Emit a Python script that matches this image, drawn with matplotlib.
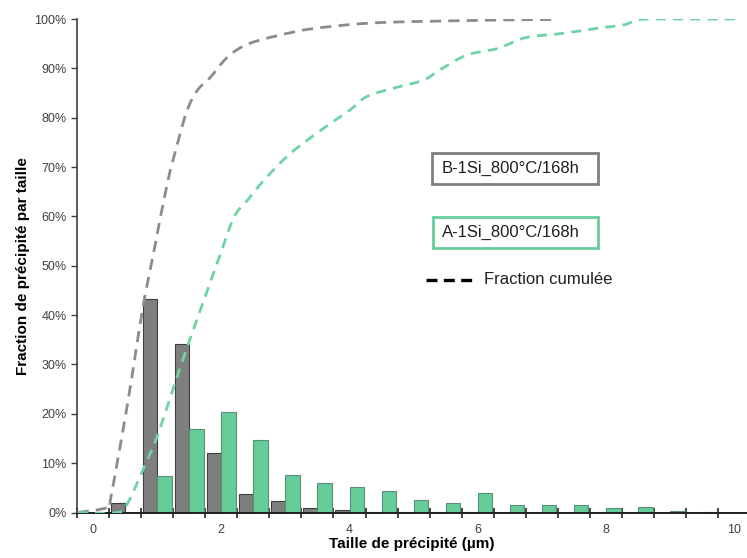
import numpy as np
import matplotlib
matplotlib.use("Agg")
import matplotlib.pyplot as plt
from matplotlib.lines import Line2D
from matplotlib.patches import Rectangle, PathPatch
from matplotlib.path import Path

plt.rcParams["font.family"] = ["Liberation Sans", "DejaVu Sans"]

# --------- données ---------
tailles = [0, 0.5, 1, 1.5, 2, 2.5, 3, 3.5, 4, 4.5, 5, 5.5, 6, 6.5, 7, 7.5, 8, 8.5, 9, 9.5, 10]
frac_B = [0, 1.9, 43.3, 34.1, 12.1, 3.7, 2.3, 0.85, 0.5, 0.2, 0.15, 0.1, 0.2, 0, 0, 0, 0, 0, 0, 0, 0]
frac_A = [0, 0, 7.4, 16.9, 20.4, 14.6, 7.7, 6.0, 5.2, 4.4, 2.5, 1.9, 3.9, 1.5, 1.5, 1.5, 0.9, 1.1, 0.3, 0.1, 0]

# fractions cumulées
cum_B_x = [-0.24, 0.23, 0.28, 0.54, 0.77, 0.95, 1.16, 1.32, 1.47, 1.63, 1.83, 2.1, 2.45, 3.14, 3.65, 4.52, 6.35, 7.16]
cum_B_y = [0, 1.05, 3.2, 22.2, 41, 53, 66.8, 74.9, 81.6, 85.6, 88.2, 92.3, 95.1, 97.4, 98.4, 99.3, 99.8, 99.9]
cum_A_x = [-0.24, 0.38, 0.54, 0.80, 1.0, 1.26, 1.47, 1.73, 1.99, 2.2, 2.41, 2.67, 3.08, 3.6, 4.01, 4.27,
           4.69, 5.15, 5.41, 5.83, 6.3, 6.66, 6.87, 7.33, 7.85, 8.27, 8.48, 8.68, 9.15, 10.03]
cum_A_y = [0, 0, 1.9, 9.3, 15.4, 25.5, 33.6, 43.1, 52.5, 59.9, 63.3, 67.4, 72.8, 77.9, 81.6, 84.3,
           86.0, 87.6, 89.7, 92.7, 94.0, 95.9, 96.5, 97.1, 98.1, 98.8, 99.8, 100, 100, 100]

GRIS = "#7f7f7f"
VERT = "#66cc99"
W = 0.226


def courbe_lisse(xs, ys):
    # trait lissé façon Excel : Bézier cubiques passant par les points relevés
    p = np.column_stack([xs, ys])
    verts = [p[0]]
    codes = [Path.MOVETO]
    for i in range(len(p) - 1):
        p0 = p[i - 1] if i > 0 else p[i]
        p3 = p[i + 2] if i + 2 < len(p) else p[i + 1]
        c1 = p[i] + (p[i + 1] - p0) / 6
        c2 = p[i + 1] - (p3 - p[i]) / 6
        verts += [c1, c2, p[i + 1]]
        codes += [Path.CURVE4] * 3
    return Path(verts, codes)


fig = plt.figure(figsize=(7.47, 5.58), dpi=100)
ax = fig.add_axes([0.1031, 0.0815, 0.897, 0.8844])

x = np.array(tailles)
ax.bar(x - W / 2, frac_B, width=W, color=GRIS, edgecolor="#3f3f3f", linewidth=0.8, zorder=2)
ax.bar(x + W / 2, frac_A, width=W, color=VERT, edgecolor="#5a8f73", linewidth=0.8, zorder=2)

ax.add_patch(PathPatch(courbe_lisse(cum_B_x, cum_B_y), fill=False, ec="#8c8c8c", lw=2,
                       linestyle=(0, (4, 2.6)), zorder=3))
ax.add_patch(PathPatch(courbe_lisse(cum_A_x, cum_A_y), fill=False, ec="#6fd3a3", lw=2,
                       linestyle=(0, (3.6, 2.6)), zorder=3))

ax.set_xlim(-0.25, 10.2)
ax.set_ylim(0, 100)

ax.set_xticks([0, 2, 4, 6, 8, 10])
ax.set_xticks(np.arange(-0.25, 10.0, 0.5), minor=True)
ax.tick_params(axis="x", which="major", length=0, pad=8, labelsize=9, labelcolor="#404040")
ax.tick_params(axis="x", which="minor", length=7, width=1.2, direction="inout", color="#202020")
ax.set_yticks(np.arange(0, 101, 10))
ax.set_yticklabels([f"{v}%" for v in range(0, 101, 10)])
ax.tick_params(axis="y", length=4, width=1, labelsize=9, labelcolor="#404040", color="#404040")

for s in ["top", "right"]:
    ax.spines[s].set_visible(False)
ax.spines["left"].set_color("#404040")
ax.spines["left"].set_linewidth(1.2)
ax.spines["bottom"].set_color("#202020")
ax.spines["bottom"].set_linewidth(1.4)

ax.set_xlabel("Taille de précipité (µm)", fontsize=11, fontweight="bold", labelpad=1)
ax.set_ylabel("Fraction de précipité par taille", fontsize=11, fontweight="bold", labelpad=3)

# légende façon Excel
ax.add_patch(Rectangle((5.29, 66.6), 2.58, 6.25, fc="white", ec=GRIS, lw=2, zorder=4))
ax.text(5.44, 69.8, "B-1Si_800°C/168h", fontsize=12, va="center", color="#202020", zorder=5)
ax.add_patch(Rectangle((5.30, 53.6), 2.57, 6.3, fc="white", ec=VERT, lw=2, zorder=4))
ax.text(5.44, 56.7, "A-1Si_800°C/168h", fontsize=12, va="center", color="#202020", zorder=5)
ax.add_line(Line2D([5.19, 5.92], [47.2, 47.2], color="black", lw=2.4, dashes=(3.3, 1.9)))
ax.text(6.1, 47.2, "Fraction cumulée", fontsize=12, va="center", color="#202020")

fig.savefig("out.png", dpi=100)
